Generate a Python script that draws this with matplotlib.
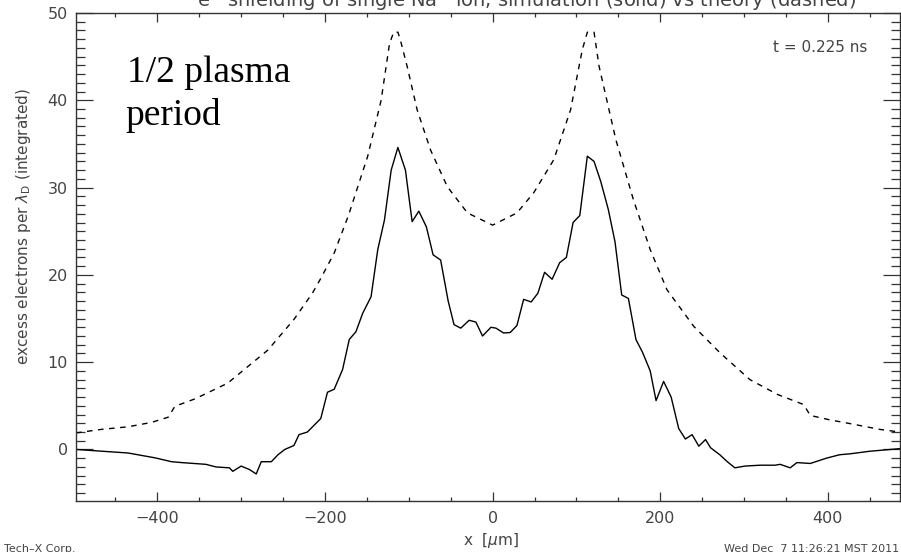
import matplotlib
matplotlib.use("Agg")
import matplotlib.pyplot as plt
from matplotlib.ticker import MultipleLocator

# ---- data ----
sim_x = [-496, -455, -435, -403, -383, -371, -342, -330, -314, -310, -300, -290,
         -282, -276, -264, -256, -248, -237, -231, -221, -205, -197, -189, -179,
         -171, -163, -155, -145, -137, -129, -121, -113, -104, -96, -88, -79,
         -71, -62, -53, -46, -38, -28, -20, -12, -2, 4, 13, 21, 29, 37, 46, 54,
         62, 71, 80, 88, 96, 104, 113, 121, 129, 138, 146, 154, 162, 171, 179,
         188, 195, 204, 213, 222, 230, 238, 246, 254, 260, 271, 280, 289, 301,
         319, 337, 343, 355, 363, 379, 398, 414, 426, 450, 486]
sim_y = [0.0, -0.27, -0.4, -0.95, -1.4, -1.5, -1.7, -2.0, -2.1, -2.5, -1.9, -2.3,
         -2.8, -1.4, -1.4, -0.6, 0.0, 0.46, 1.7, 2.0, 3.55, 6.56, 6.9, 9.15,
         12.6, 13.5, 15.6, 17.5, 22.9, 26.3, 32.0, 34.6, 32.0, 26.1, 27.3, 25.5,
         22.3, 21.7, 17.0, 14.3, 13.9, 14.8, 14.6, 13.0, 14.0, 13.9, 13.35, 13.4,
         14.2, 17.2, 16.9, 17.9, 20.3, 19.5, 21.4, 22.0, 26.0, 26.8, 33.6, 33.0,
         30.7, 27.5, 23.8, 17.7, 17.3, 12.6, 11.1, 9.0, 5.6, 7.8, 6.0, 2.4, 1.2,
         1.7, 0.38, 1.14, 0.2, -0.6, -1.4, -2.1, -1.9, -1.8, -1.8, -1.7, -2.1,
         -1.5, -1.6, -1.0, -0.6, -0.5, -0.2, 0.1]

theory_x = [-497, -467, -435, -407, -387, -379, -355, -316, -268, -237, -215,
            -205, -189, -172, -149, -133, -123, -118, -113, -110, -102, -90,
            -74, -54, -30, 0, 29, 49, 73, 93, 107, 113, 121, 127, 147, 168, 188,
            208, 240, 271, 307, 340, 371, 379, 402, 430, 462, 486]
theory_y = [1.9, 2.3, 2.6, 3.1, 3.7, 4.95, 5.8, 7.6, 11.4, 14.9, 17.9, 19.6,
            22.5, 26.8, 33.6, 40.0, 46.5, 47.8, 47.8, 46.9, 43.9, 38.9, 34.3,
            30.1, 27.1, 25.7, 27.1, 29.4, 33.2, 38.9, 45.8, 47.8, 47.8, 43.9,
            35.5, 28.6, 22.9, 18.3, 14.1, 11.1, 8.0, 6.3, 5.15, 3.9, 3.4, 2.9,
            2.3, 2.0]

x_ticks = [-400, -200, 0, 200, 400]
x_tick_labels = ["\u2212400", "\u2212200", "0", "200", "400"]
y_ticks = [0, 10, 20, 30, 40, 50]

title = "e$^{-}$ shielding of single Na$^{+}$ ion, simulation (solid) vs theory (dashed)"
time_label = "t = 0.225 ns"
note = "1/2 plasma\nperiod"

# ---- figure ----
W, H = 901, 552
fig = plt.figure(figsize=(W / 100, H / 100), dpi=100)
ax = fig.add_axes([76 / W, (H - 501) / H, (900 - 76) / W, (501 - 13) / H])

TXT = "#444444"
ax.plot(sim_x, sim_y, color="black", lw=1.0)
ax.plot(theory_x, theory_y, color="black", lw=1.0, dashes=(4, 4))

ax.set_xlim(-497, 486)
ax.set_ylim(-5.9, 50)
ax.set_xticks(x_ticks)
ax.set_yticks(y_ticks)
ax.xaxis.set_minor_locator(MultipleLocator(50))
ax.yaxis.set_minor_locator(MultipleLocator(1))
ax.set_xticklabels(x_tick_labels)

for sp in ax.spines.values():
    sp.set_color("#333333")
    sp.set_linewidth(1.0)

ax.tick_params(axis="x", which="major", direction="in", length=6.5, width=0.9,
               top=True, bottom=True, pad=7, labelsize=11.5, labelcolor=TXT, color="#333333")
ax.tick_params(axis="x", which="minor", direction="in", length=3.2, width=0.9,
               top=True, bottom=True, color="#333333")
ax.tick_params(axis="y", which="major", direction="in", length=12.5, width=0.9,
               left=True, right=True, pad=6, labelsize=11.5, labelcolor=TXT, color="#333333")
ax.tick_params(axis="y", which="minor", direction="in", length=6.2, width=0.9,
               left=True, right=True, color="#333333")

# texts in pixel coords (from top-left)
def px(x, y):
    return x / W, 1 - y / H

fig.text(*px(527, 7), title, ha="center", va="baseline", fontsize=14, color=TXT)
fig.text(*px(24, 226), r"excess electrons per $\lambda_{\rm D}$ (integrated)",
         rotation=90, ha="center", va="center", fontsize=11, color=TXT)
fig.text(*px(491, 540), r"x  [$\mu$m]", ha="center", va="center", fontsize=11, color=TXT)
fig.text(*px(4, 549), "Tech\u2013X Corp.", ha="left", va="center", fontsize=8, color=TXT)
fig.text(*px(899, 549), "Wed Dec  7 11:26:21 MST 2011", ha="right", va="center",
         fontsize=8, color=TXT)
fig.text(*px(773, 47), time_label, ha="left", va="center", fontsize=11, color=TXT)
fig.text(*px(127, 82), note.split("\n")[0], ha="left", va="baseline", fontsize=27,
         family="Liberation Serif", color="black")
fig.text(*px(125, 125), note.split("\n")[1], ha="left", va="baseline", fontsize=27,
         family="Liberation Serif", color="black")

fig.savefig("out.png", dpi=100)
